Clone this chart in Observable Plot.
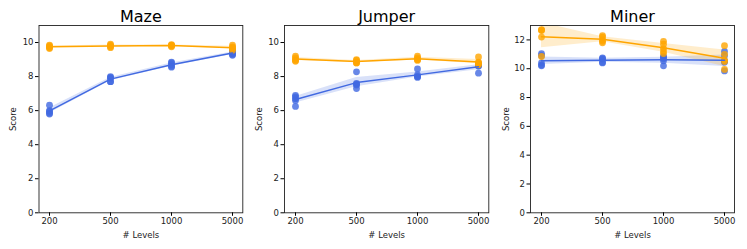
<!DOCTYPE html>
<html>
<head>
<meta charset="utf-8">
<script src="https://cdn.jsdelivr.net/npm/d3@7"></script>
<script src="https://cdn.jsdelivr.net/npm/@observablehq/plot@0.6"></script>
<style>
  html, body { margin: 0; padding: 0; background: #fff; }
  #row { display: flex; width: 747px; height: 249px; }
  #row svg { display: block; }
</style>
</head>
<body>
<div id="row"></div>
<script>
const levels = ["200", "500", "1000", "5000"];
const games = ["Maze", "Jumper", "Miner"];
const seriesNames = ["Blue", "Orange"];
const colors = ["#4169E1", "#FFA500"];

// per-level seed scores (5 seeds)
const mazeBlue   = [[6.32,5.95,5.85,5.8,6.0],[8.0,7.95,7.9,7.7,7.7],[8.85,8.8,8.7,8.55,8.6],[9.55,9.45,9.35,9.3,9.25]];
const mazeOrange = [[9.65,9.7,9.75,9.8,9.85],[9.7,9.75,9.8,9.85,9.9],[9.75,9.8,9.82,9.85,9.88],[9.55,9.65,9.7,9.75,9.85]];
const jumperBlue   = [[6.9,6.8,6.6,6.7,6.25],[8.28,7.6,7.55,7.3,7.5],[8.45,8.0,7.95,8.1,8.0],[8.75,8.7,8.65,8.6,8.2]];
const jumperOrange = [[9.2,9.1,9.0,8.95,8.9],[9.0,8.95,8.85,8.8,8.8],[9.2,9.1,9.0,8.95,9.0],[9.15,8.85,8.8,8.75,8.7]];
const minerBlue   = [[11.05,10.9,10.4,10.25,10.2],[10.75,10.7,10.65,10.45,10.4],[10.85,10.8,10.7,10.55,10.2],[11.2,10.9,10.55,10.45,9.85]];
const minerOrange = [[12.72,12.68,12.65,12.2,10.85],[12.3,12.2,12.0,11.9,11.8],[11.9,11.7,11.4,11.2,11.05],[11.6,11.0,10.6,10.5,9.95]];

// confidence band bounds
const mazeBlueLo = [5.85,7.75,8.6,9.3],   mazeBlueHi = [6.15,7.95,8.8,9.45];
const mazeOrangeLo = [9.7,9.75,9.78,9.64], mazeOrangeHi = [9.8,9.85,9.86,9.78];
const jumperBlueLo = [6.45,7.4,7.98,8.4],  jumperBlueHi = [6.83,7.95,8.27,8.7];
const jumperOrangeLo = [8.95,8.82,8.98,8.75], jumperOrangeHi = [9.12,8.95,9.13,9.0];
const minerBlueLo = [10.3,10.45,10.38,10.15], minerBlueHi = [10.82,10.72,10.8,10.95];
const minerOrangeLo = [11.45,11.88,11.15,10.15], minerOrangeHi = [13.2,12.22,11.75,11.3];

const yMax = [11, 11, 13];
const yTicks = [[0,2,4,6,8,10],[0,2,4,6,8,10],[0,2,4,6,8,10,12]];

const panelData = [
  {points: [mazeBlue, mazeOrange], lo: [mazeBlueLo, mazeOrangeLo], hi: [mazeBlueHi, mazeOrangeHi]},
  {points: [jumperBlue, jumperOrange], lo: [jumperBlueLo, jumperOrangeLo], hi: [jumperBlueHi, jumperOrangeHi]},
  {points: [minerBlue, minerOrange], lo: [minerBlueLo, minerOrangeLo], hi: [minerBlueHi, minerOrangeHi]}
];

// layout per panel (svg width 249)
const margins = [
  {left: 38.5, right: 6.7},
  {left: 35, right: 9.7},
  {left: 32, right: 13}
];

const font = "DejaVu Sans, sans-serif";
const row = document.getElementById("row");

games.forEach((game, gi) => {
  const pd = panelData[gi];
  const seriesMarks = [];
  seriesNames.forEach((s, si) => {
    const pts = [], bands = [];
    levels.forEach((lv, li) => {
      pd.points[si][li].forEach(v => pts.push({level: lv, score: v}));
      bands.push({level: lv, lo: pd.lo[si][li], hi: pd.hi[si][li]});
    });
    seriesMarks.push({pts, bands, color: colors[si]});
  });

  const marks = [];
  seriesMarks.forEach(m => marks.push(Plot.areaY(m.bands, {x: "level", y1: "lo", y2: "hi", fill: m.color, fillOpacity: 0.2, clip: true})));
  seriesMarks.forEach(m => marks.push(Plot.dot(m.pts, {x: "level", y: "score", fill: m.color, fillOpacity: 0.8, r: 3.4, clip: true})));
  seriesMarks.forEach(m => marks.push(Plot.lineY(m.pts, Plot.groupX({y: "mean"}, {x: "level", y: "score", stroke: m.color, strokeWidth: 1.5}))));

  const chart = Plot.plot({
    width: 249,
    height: 249,
    marginLeft: margins[gi].left,
    marginRight: margins[gi].right,
    marginTop: 25,
    marginBottom: 36.7,
    style: {fontFamily: font, background: "#fff"},
    x: {type: "point", domain: levels, padding: 0.16},
    y: {domain: [0, yMax[gi]]},
    marks: [
      ...marks,
      Plot.frame({stroke: "#222", strokeWidth: 0.9}),
      Plot.axisX({tickSize: 3.5, tickPadding: 2, fontSize: 8.5, label: "# Levels", labelAnchor: "center", labelArrow: "none", labelOffset: 25, fill: "#222"}),
      Plot.axisY({ticks: yTicks[gi], tickSize: 3.5, tickPadding: 2, fontSize: 8.5, label: "Score", labelAnchor: "center", labelArrow: "none", labelOffset: 29 - gi * 0.8, fill: "#222"}),
      Plot.text([game], {frameAnchor: "top", dy: -3.5, lineAnchor: "bottom", fontSize: 16, fill: "#000"})
    ]
  });
  row.appendChild(chart);
});
</script>
</body>
</html>
